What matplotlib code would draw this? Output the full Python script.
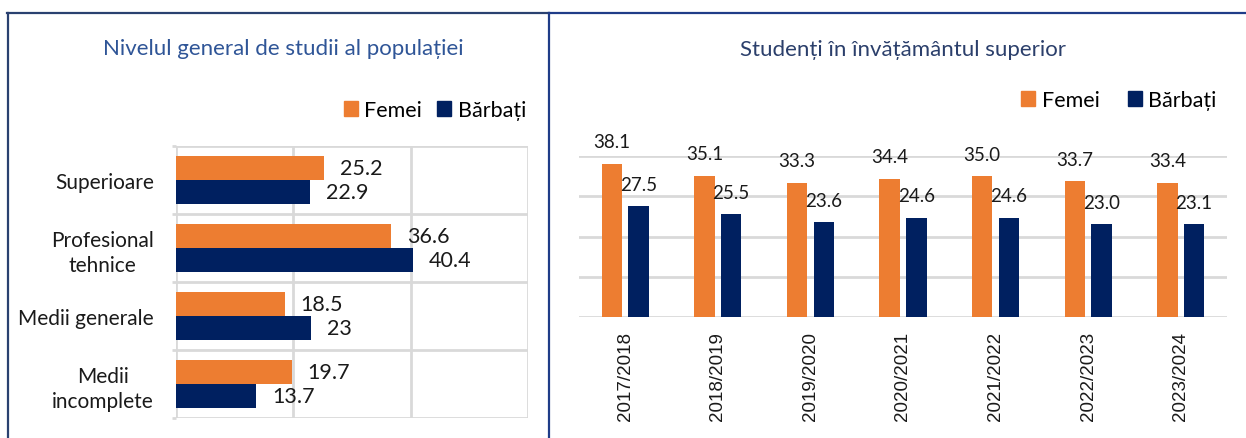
import matplotlib
matplotlib.use('Agg')
import matplotlib.pyplot as plt
from matplotlib.lines import Line2D
from matplotlib.patches import Patch
import numpy as np

plt.rcParams['font.family'] = ['Lato', 'DejaVu Sans']

# Left chart: general level of education
levels = ['Superioare', 'Profesional\ntehnice', 'Medii generale', 'Medii\nincomplete']
femei_studii = [25.2, 36.6, 18.5, 19.7]
barbati_studii = [22.9, 40.4, 23, 13.7]

# Right chart: students in higher education
years = ['2017/2018', '2018/2019', '2019/2020', '2020/2021', '2021/2022', '2022/2023', '2023/2024']
femei_stud = [38.1, 35.1, 33.3, 34.4, 35.0, 33.7, 33.4]
barbati_stud = [27.5, 25.5, 23.6, 24.6, 24.6, 23.0, 23.1]

ORANGE = '#ED7D31'
NAVY = '#002060'
GRID = '#D9D9D9'
W, H = 1246, 439

fig = plt.figure(figsize=(W / 100, H / 100), dpi=100)


def frac(x0, y0, x1, y1):
    # pixel box (top-left origin) -> figure fraction rect
    return [x0 / W, 1 - y1 / H, (x1 - x0) / W, (y1 - y0) / H]


# ---- left panel ----
ax1 = fig.add_axes(frac(176, 147, 528, 419))
y = np.arange(len(levels))
h = 0.36
b1 = ax1.barh(y - h / 2, femei_studii, height=h, color=ORANGE, label='Femei', zorder=3)
b2 = ax1.barh(y + h / 2, barbati_studii, height=h, color=NAVY, label='Bărbați', zorder=3)
for bars, vals in ((b1, femei_studii), (b2, barbati_studii)):
    for bar, v in zip(bars, vals):
        ax1.annotate(f'{v:g}', (bar.get_width(), bar.get_y() + bar.get_height() / 2),
                     xytext=(16, 0), textcoords='offset pixels',
                     ha='left', va='center', fontsize=15.5, color='#1a1a1a')
ax1.set_xlim(0, 60)
ax1.set_ylim(len(levels) - 0.5, -0.5)
ax1.set_xticks([0, 20, 40, 60])
ax1.set_xticklabels([])
ax1.tick_params(axis='x', length=0)
ax1.set_yticks(y)
ax1.set_yticklabels(levels, fontsize=15, multialignment='center', linespacing=1.3, color='#1a1a1a')
ax1.set_yticks(np.arange(-0.5, len(levels)), minor=True)
ax1.tick_params(axis='y', which='major', length=0, pad=16)
ax1.tick_params(axis='y', which='minor', length=3, width=2, color=GRID)
ax1.grid(True, axis='x', color=GRID, linewidth=2, zorder=0)
ax1.grid(True, axis='y', which='minor', color=GRID, linewidth=2, zorder=0)
for s in ax1.spines.values():
    s.set_visible(False)

fig.text(283 / W, 1 - 49 / H, 'Nivelul general de studii al populației',
         ha='center', va='center', fontsize=16, color='#2F5597')
fig.legend(handles=[Patch(color=ORANGE, label='Femei'), Patch(color=NAVY, label='Bărbați')],
           loc='center', bbox_to_anchor=(435 / W, 1 - 111 / H), ncol=2, frameon=False,
           fontsize=15.5, handlelength=0.65, handleheight=0.65, handletextpad=0.3,
           columnspacing=0.7, borderpad=0, borderaxespad=0)

# ---- right panel ----
ax2 = fig.add_axes(frac(579, 157, 1227, 318))
x = np.arange(len(years))
w = 0.22
off = 0.144
r1 = ax2.bar(x - off, femei_stud, width=w, color=ORANGE, zorder=3)
r2 = ax2.bar(x + off, barbati_stud, width=w, color=NAVY, zorder=3)
for bars, vals in ((r1, femei_stud), (r2, barbati_stud)):
    for bar, v in zip(bars, vals):
        ax2.annotate(f'{v:.1f}', (bar.get_x() + bar.get_width() / 2, bar.get_height()),
                     xytext=(0, 22), textcoords='offset pixels',
                     ha='center', va='center', fontsize=13.5, color='#1a1a1a', zorder=4)
ax2.set_xlim(-0.5, len(years) - 0.5)
ax2.set_ylim(0, 40)
ax2.set_yticks([0, 10, 20, 30, 40])
ax2.set_yticklabels([])
ax2.tick_params(axis='y', length=0)
ax2.set_xticks(x)
ax2.set_xticklabels(years, rotation=90, fontsize=13.5, family='Liberation Sans', color='#1a1a1a')
ax2.tick_params(axis='x', length=0, pad=10)
ax2.grid(True, axis='y', color=GRID, linewidth=2, zorder=0)
for s in ax2.spines.values():
    s.set_visible(False)

fig.text(903 / W, 1 - 50 / H, 'Studenți în învățământul superior',
         ha='center', va='center', fontsize=16, color='#2B3F6B')
fig.legend(handles=[Patch(color=ORANGE, label='Femei'), Patch(color=NAVY, label='Bărbați')],
           loc='center', bbox_to_anchor=(1119 / W, 1 - 101 / H), ncol=2, frameon=False,
           fontsize=15.5, handlelength=0.65, handleheight=0.65, handletextpad=0.3,
           columnspacing=1.3, borderpad=0, borderaxespad=0)

# ---- frame lines ----
top = 1 - 14 / H
fig.add_artist(Line2D([7 / W, 549 / W], [top, top], color='#2A4170', linewidth=1.6))
fig.add_artist(Line2D([549 / W, 1], [top, top], color='#1F3C88', linewidth=1.6))
fig.add_artist(Line2D([7.5 / W, 7.5 / W], [0, top], color='#2A4170', linewidth=1.6))
fig.add_artist(Line2D([549 / W, 549 / W], [0, top], color='#1F3C88', linewidth=1.6))

fig.savefig('out.png', dpi=100)
plt.close(fig)
